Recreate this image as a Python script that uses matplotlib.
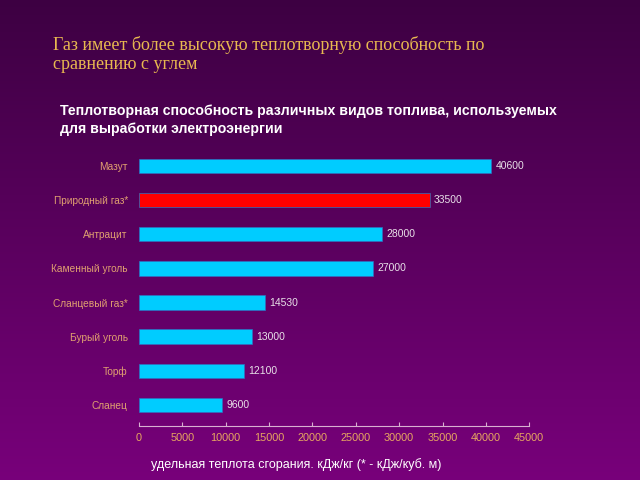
import numpy as np
import matplotlib.pyplot as plt

# === Данные ===
fuels = ["Сланец", "Торф", "Бурый уголь", "Сланцевый газ*",
         "Каменный уголь", "Антрацит", "Природный газ*", "Мазут"]
heat = [9600, 12100, 13000, 14530, 27000, 28000, 33500, 40600]
value_labels = ["9600", "12100", "13000", "14530", "27000", "28000", "33500", "40600"]
xticks = [0, 5000, 10000, 15000, 20000, 25000, 30000, 35000, 40000, 45000]

plt.rcParams['font.family'] = ['Liberation Sans', 'DejaVu Sans']

fig = plt.figure(figsize=(6.4, 4.8), dpi=100)

# === Фон: градиент ===
bg = fig.add_axes([0, 0, 1, 1])
grad = np.linspace(0, 1, 256).reshape(-1, 1)
top = np.array([0.24, 0.0, 0.26])
bot = np.array([0.47, 0.0, 0.48])
img = top + (bot - top) * grad[:, :, None]
bg.imshow(img, aspect='auto', extent=[0, 1, 0, 1])
bg.axis('off')

fig.text(0.083, 0.907, "Газ имеет более высокую теплотворную способность по",
         family='Liberation Serif', fontsize=13, color='#e8b850', va='center')
fig.text(0.083, 0.866, "сравнению с углем",
         family='Liberation Serif', fontsize=13, color='#e8b850', va='center')

fig.text(0.094, 0.769, "Теплотворная способность различных видов топлива, используемых",
         fontsize=10.2, fontweight='bold', color='white', va='center')
fig.text(0.094, 0.731, "для выработки электроэнергии",
         fontsize=10.2, fontweight='bold', color='white', va='center')

# === График ===
ax = fig.add_axes([0.217, 0.1125, 0.61, 0.577])
ax.patch.set_alpha(0)
y = np.arange(len(fuels))
colors = ['#00ccff'] * len(fuels)
colors[fuels.index("Природный газ*")] = '#ff0000'
bars = ax.barh(y, heat, height=0.42, color=colors, edgecolor='#3070c0', linewidth=0.5)

for yi, v, lab in zip(y, heat, value_labels):
    ax.text(v + 500, yi, lab, va='center', ha='left', fontsize=7.5, color='#e8e0e8')

ax.set_xlim(0, 45000)
ax.set_ylim(-0.62, 7.5)
ax.set_xticks(xticks)
ax.set_xticklabels([str(t) for t in xticks], color='#e8a860', fontsize=7.8)
ax.set_yticks(y)
ax.set_yticklabels(fuels, color='#e0a070', fontsize=7.3)
ax.tick_params(axis='y', length=0, pad=8)
ax.tick_params(axis='x', direction='in', length=3, color='#d8b0d0', pad=5)
for s in ['top', 'right', 'left']:
    ax.spines[s].set_visible(False)
ax.spines['bottom'].set_color('#d8b0d0')
ax.spines['bottom'].set_linewidth(0.8)

fig.text(0.236, 0.033, "удельная теплота сгорания. кДж/кг (* - кДж/куб. м)",
         fontsize=9, color='white', va='center')

fig.savefig("out.png", dpi=100)
